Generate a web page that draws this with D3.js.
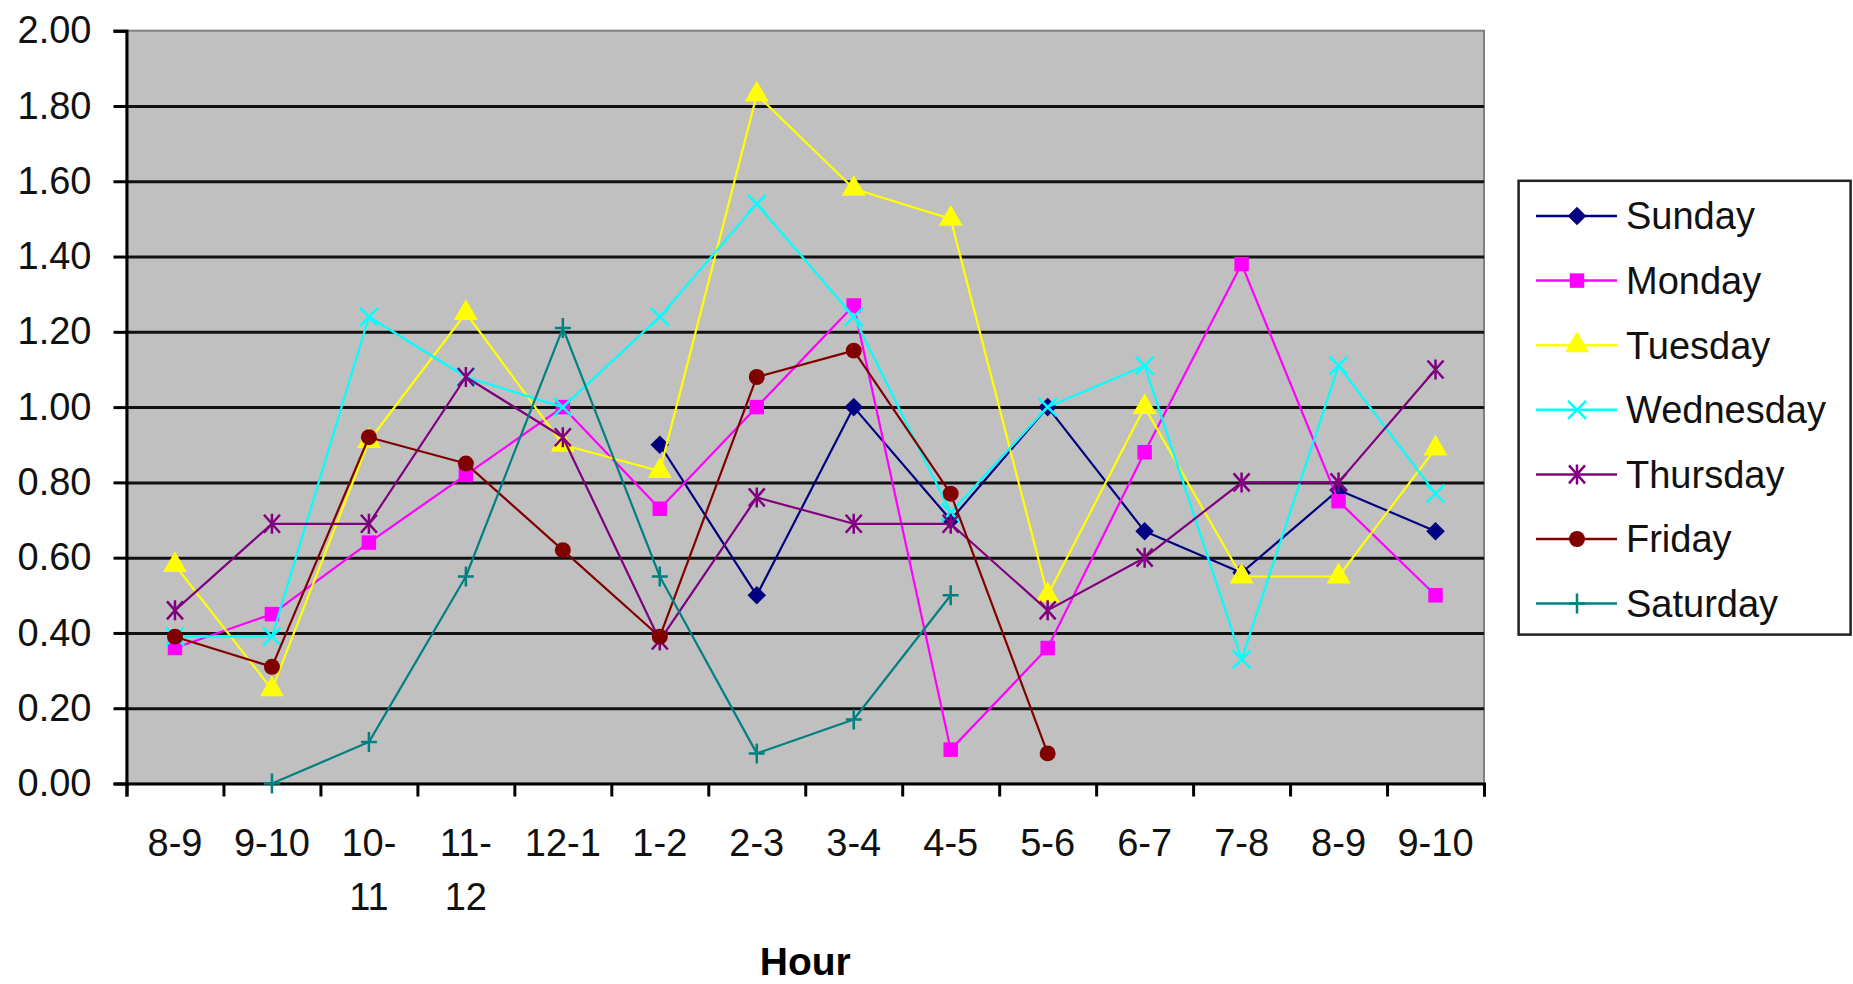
<!DOCTYPE html>
<html>
<head>
<meta charset="utf-8">
<script src="https://cdn.jsdelivr.net/npm/d3@7"></script>
<style>
  html, body { margin: 0; padding: 0; background: #fff; }
  svg { display: block; font-family: "Liberation Sans", Arial, sans-serif; }
</style>
</head>
<body>
<svg id="chart" width="1853" height="984"></svg>
<script>
// Hour-of-day categories along the x axis
const hours = ["8-9", "9-10", "10-11", "11-12", "12-1", "1-2", "2-3", "3-4", "4-5", "5-6", "6-7", "7-8", "8-9", "9-10"];

// Y axis tick values
const yTicks = [0, 0.2, 0.4, 0.6, 0.8, 1.0, 1.2, 1.4, 1.6, 1.8, 2.0];

// Series values per hour (null = no reading)
const sunday    = [null, null, null, null, null, 0.90, 0.50, 1.00, 0.70, 1.00, 0.67, 0.56, 0.78, 0.67];
const monday    = [0.36, 0.45, 0.64, 0.82, 1.00, 0.73, 1.00, 1.27, 0.09, 0.36, 0.88, 1.38, 0.75, 0.50];
const tuesday   = [0.58, 0.25, 0.91, 1.25, 0.90, 0.83, 1.83, 1.58, 1.50, 0.50, 1.00, 0.55, 0.55, 0.89];
const wednesday = [0.39, 0.39, 1.24, 1.08, 1.00, 1.24, 1.54, 1.24, 0.72, 1.00, 1.11, 0.33, 1.11, 0.77];
const thursday  = [0.46, 0.69, 0.69, 1.08, 0.92, 0.38, 0.76, 0.69, 0.69, 0.46, 0.60, 0.80, 0.80, 1.10];
const friday    = [0.39, 0.31, 0.92, 0.85, 0.62, 0.39, 1.08, 1.15, 0.77, 0.08, null, null, null, null];
const saturday  = [null, 0.00, 0.11, 0.55, 1.21, 0.55, 0.08, 0.17, 0.50, null, null, null, null, null];

const seriesNames = ["Sunday", "Monday", "Tuesday", "Wednesday", "Thursday", "Friday", "Saturday"];
const seriesValues = [sunday, monday, tuesday, wednesday, thursday, friday, saturday];

const colors  = ["#000080", "#FF00FF", "#FFFF00", "#00FFFF", "#800080", "#800000", "#008080"];
const markers = ["diamond", "square", "triangle", "cross", "star", "circle", "plus"];

const series = seriesNames.map((name, i) => ({
  name, color: colors[i], marker: markers[i], values: seriesValues[i]
}));

// Layout
const W = 1853, H = 984;
const plot = { left: 126.5, right: 1484, top: 30.7, bottom: 783.5 };
const fontSize = 38;

const svg = d3.select("#chart");
svg.append("rect").attr("width", W).attr("height", H).attr("fill", "#fff");

const x = d3.scaleBand().domain(d3.range(hours.length)).range([plot.left, plot.right]).padding(0);
const xEdge = d3.scaleLinear().domain([0, hours.length]).range([plot.left, plot.right]);
const y = d3.scaleLinear().domain([0, 2]).range([plot.bottom, plot.top]);
const cx = i => x(i) + x.bandwidth() / 2;

// Plot area background
svg.append("rect")
  .attr("x", plot.left).attr("y", plot.top)
  .attr("width", plot.right - plot.left).attr("height", plot.bottom - plot.top)
  .attr("fill", "#C0C0C0")
  .attr("stroke", "#808080").attr("stroke-width", 2);

// Horizontal gridlines
const grid = svg.append("g")
  .attr("transform", `translate(${plot.left},0)`)
  .call(d3.axisLeft(y).tickValues(yTicks.filter(v => v > 0 && v < 2)).tickSize(-(plot.right - plot.left)).tickFormat(""));
grid.select(".domain").remove();
grid.selectAll(".tick line").attr("stroke", "#111").attr("stroke-width", 3);

// Y axis
const yAxis = svg.append("g")
  .attr("transform", `translate(${plot.left},0)`)
  .call(d3.axisLeft(y).tickValues(yTicks).tickFormat(d3.format(".2f")).tickSize(13).tickPadding(22));
yAxis.select(".domain").attr("stroke", "#000").attr("stroke-width", 3);
yAxis.selectAll(".tick line").attr("stroke", "#000").attr("stroke-width", 3);
yAxis.selectAll(".tick text")
  .attr("fill", "#111").attr("font-size", fontSize).attr("font-family", "Liberation Sans, Arial, sans-serif");

// X axis: tick marks on category boundaries
const xAxis = svg.append("g")
  .attr("transform", `translate(0,${plot.bottom})`)
  .call(d3.axisBottom(xEdge).tickValues(d3.range(hours.length + 1)).tickSize(13).tickFormat(""));
xAxis.select(".domain").attr("stroke", "#000").attr("stroke-width", 3);
xAxis.selectAll(".tick line").attr("stroke", "#000").attr("stroke-width", 3);

// X axis labels centred in each category, wrapped after the hyphen when too wide
const xLabels = svg.append("g")
  .attr("transform", `translate(0,${plot.bottom})`)
  .call(d3.axisBottom(x).tickSize(0).tickPadding(0).tickFormat(i => hours[i]));
xLabels.select(".domain").remove();
xLabels.selectAll(".tick text")
  .attr("fill", "#111").attr("font-size", fontSize).attr("font-family", "Liberation Sans, Arial, sans-serif")
  .attr("dy", null).attr("y", 72)
  .each(function(i) {
    const t = d3.select(this);
    const label = hours[i];
    if (this.getComputedTextLength() > x.bandwidth() * 0.92 && label.includes("-")) {
      const k = label.indexOf("-") + 1;
      t.text(null);
      t.append("tspan").attr("x", 0).attr("y", 72).text(label.slice(0, k));
      t.append("tspan").attr("x", 0).attr("y", 126).text(label.slice(k));
    }
  });

// Axis title
svg.append("text")
  .attr("x", (plot.left + plot.right) / 2).attr("y", 975)
  .attr("text-anchor", "middle")
  .attr("font-size", 39).attr("font-weight", "bold").attr("fill", "#000")
  .text("Hour");

// Marker shapes
function markerPath(type) {
  const p = d3.path();
  switch (type) {
    case "diamond": return d3.symbol(d3.symbolDiamond2, 220)();
    case "square":  return d3.symbol(d3.symbolSquare, 210)();
    case "triangle":return d3.symbol(d3.symbolTriangle, 250)();
    case "circle":  return d3.symbol(d3.symbolCircle, 200)();
    case "cross":
      p.moveTo(-9, -9); p.lineTo(9, 9); p.moveTo(9, -9); p.lineTo(-9, 9);
      return p.toString();
    case "star":
      p.moveTo(-8, -9); p.lineTo(8, 9); p.moveTo(8, -9); p.lineTo(-8, 9);
      p.moveTo(0, -10); p.lineTo(0, 10);
      return p.toString();
    case "plus":
      p.moveTo(-8, 0); p.lineTo(8, 0); p.moveTo(0, -10); p.lineTo(0, 10);
      return p.toString();
  }
}
const stroked = t => t === "cross" || t === "star" || t === "plus";

function drawMarker(g, type, color) {
  const m = g.append("path").attr("d", markerPath(type));
  if (stroked(type)) m.attr("fill", "none").attr("stroke", color).attr("stroke-width", 2.5);
  else m.attr("fill", color).attr("stroke", "none");
  return m;
}

// Series lines and markers
const line = d3.line()
  .defined(d => d.v !== null)
  .x(d => cx(d.i))
  .y(d => y(d.v));

const seriesG = svg.append("g");
series.forEach(s => {
  const pts = s.values.map((v, i) => ({ i, v }));
  const g = seriesG.append("g");
  g.append("path")
    .attr("d", line(pts))
    .attr("fill", "none").attr("stroke", s.color).attr("stroke-width", 2.2)
    .attr("stroke-linejoin", "round");
  pts.filter(d => d.v !== null).forEach(d => {
    const mg = g.append("g").attr("transform", `translate(${cx(d.i)},${y(d.v)})`);
    drawMarker(mg, s.marker, s.color);
  });
});

// Legend
const legend = { x: 1518.6, y: 180.8, w: 332, h: 453.8 };
const lg = svg.append("g");
lg.append("rect")
  .attr("x", legend.x).attr("y", legend.y).attr("width", legend.w).attr("height", legend.h)
  .attr("fill", "#fff").attr("stroke", "#222").attr("stroke-width", 2.5);
series.forEach((s, k) => {
  const cy = 216 + k * 64.6;
  lg.append("line")
    .attr("x1", 1536).attr("x2", 1617).attr("y1", cy).attr("y2", cy)
    .attr("stroke", s.color).attr("stroke-width", 2.5);
  const mg = lg.append("g").attr("transform", `translate(1577,${cy})`);
  drawMarker(mg, s.marker, s.color);
  lg.append("text")
    .attr("x", 1626).attr("y", cy).attr("dy", "0.35em")
    .attr("font-size", fontSize).attr("fill", "#111")
    .text(s.name);
});
</script>
</body>
</html>
